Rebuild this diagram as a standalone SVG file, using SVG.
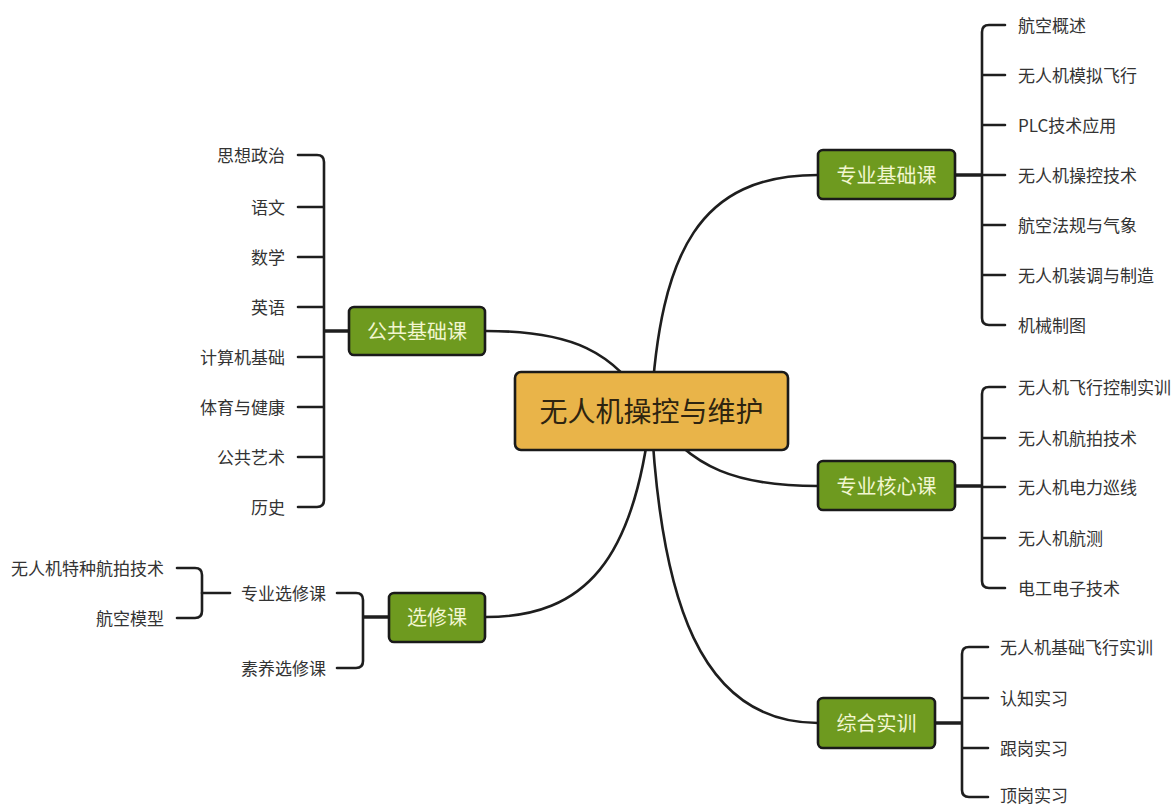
<svg xmlns="http://www.w3.org/2000/svg" width="1174" height="805" viewBox="0 0 1174 805">
<style>
.c{fill:none;stroke:#1e1e1e;stroke-width:2.6;stroke-linecap:round;stroke-linejoin:round}
.cc{fill:none;stroke:#1e1e1e;stroke-width:3.5}
.n{fill:#6E9A1F;stroke:#1a1a1a;stroke-width:2.6}
.nt{font-family:"Noto Sans CJK SC","Noto Sans",sans-serif;font-size:20px;fill:#F2F6D0;text-anchor:middle;dominant-baseline:central}
.l{font-family:"Noto Sans CJK SC","Noto Sans",sans-serif;font-size:17px;fill:#333;dominant-baseline:central}
.r{text-anchor:end}
</style>
<rect width="1174" height="805" fill="#fff"/>
<g id="connectors">
<path class="c" d="M651 411 C660 250 700 175 818 175"/>
<path class="c" d="M486 331 C570 331 615 350 651 411"/>
<path class="c" d="M651 411 C690 470 740 486 818 486"/>
<path class="c" d="M486 617 C585 617 635 560 651 411"/>
<path class="c" d="M651 411 C660 600 700 723 818 723"/>
<line class="cc" x1="955" y1="175" x2="982" y2="175"/>
<path class="c" d="M1005 25 H989 Q982 25 982 32 V318 Q982 325 989 325 H1005 M982 75 H1005 M982 125 H1005 M982 175 H1005 M982 225 H1005 M982 275 H1005"/>
<line class="cc" x1="955" y1="486" x2="982" y2="486"/>
<path class="c" d="M1005 387 H989 Q982 387 982 394 V581 Q982 588 989 588 H1005 M982 438 H1005 M982 487 H1005 M982 538 H1005"/>
<line class="cc" x1="935" y1="723" x2="962" y2="723"/>
<path class="c" d="M988 647 H969 Q962 647 962 654 V790 Q962 797 969 797 H988 M962 698 H988 M962 748 H988"/>
<line class="cc" x1="324" y1="331" x2="349" y2="331"/>
<path class="c" d="M298 155 H317 Q324 155 324 162 V500 Q324 507 317 507 H298 M324 207 H298 M324 257 H298 M324 307 H298 M324 357 H298 M324 407 H298 M324 457 H298"/>
<line class="cc" x1="363" y1="617" x2="389" y2="617"/>
<path class="c" d="M337 593 H356 Q363 593 363 600 V661 Q363 668 356 668 H337"/>
<line class="c" x1="202" y1="593" x2="230" y2="593"/>
<path class="c" d="M177 568 H195 Q202 568 202 575 V611 Q202 618 195 618 H177"/>
</g>
<g id="root">
<rect x="515" y="372" width="273" height="78" rx="6" fill="#E9B449" stroke="#1a1a1a" stroke-width="2.6"/>
<text x="651.5" y="410" font-family="Noto Sans CJK SC,sans-serif" font-size="28" fill="#2e2410" text-anchor="middle" dominant-baseline="central">无人机操控与维护</text>
</g>
<g id="zyjc">
<rect class="n" x="818" y="150" width="137" height="49" rx="5"/>
<text class="nt" x="886.5" y="174">专业基础课</text>
</g>
<g id="zyjc-leaves">
<text class="l" x="1018" y="24">航空概述</text>
<text class="l" x="1018" y="74">无人机模拟飞行</text>
<text class="l" x="1018" y="124">PLC技术应用</text>
<text class="l" x="1018" y="174">无人机操控技术</text>
<text class="l" x="1018" y="224">航空法规与气象</text>
<text class="l" x="1018" y="274">无人机装调与制造</text>
<text class="l" x="1018" y="324">机械制图</text>
</g>
<g id="zyhx">
<rect class="n" x="818" y="461" width="137" height="49" rx="5"/>
<text class="nt" x="886.5" y="485">专业核心课</text>
</g>
<g id="zyhx-leaves">
<text class="l" x="1018" y="386">无人机飞行控制实训</text>
<text class="l" x="1018" y="437">无人机航拍技术</text>
<text class="l" x="1018" y="486">无人机电力巡线</text>
<text class="l" x="1018" y="537">无人机航测</text>
<text class="l" x="1018" y="587">电工电子技术</text>
</g>
<g id="zhsx">
<rect class="n" x="818" y="698" width="117" height="50" rx="5"/>
<text class="nt" x="876.5" y="722">综合实训</text>
</g>
<g id="zhsx-leaves">
<text class="l" x="1000" y="646">无人机基础飞行实训</text>
<text class="l" x="1000" y="697">认知实习</text>
<text class="l" x="1000" y="747">跟岗实习</text>
<text class="l" x="1000" y="794">顶岗实习</text>
</g>
<g id="ggjc">
<rect class="n" x="349" y="307" width="136" height="48" rx="5"/>
<text class="nt" x="417" y="330">公共基础课</text>
</g>
<g id="ggjc-leaves">
<text class="l r" x="285" y="154">思想政治</text>
<text class="l r" x="285" y="206">语文</text>
<text class="l r" x="285" y="256">数学</text>
<text class="l r" x="285" y="306">英语</text>
<text class="l r" x="285" y="356">计算机基础</text>
<text class="l r" x="285" y="406">体育与健康</text>
<text class="l r" x="285" y="456">公共艺术</text>
<text class="l r" x="285" y="506">历史</text>
</g>
<g id="xxk">
<rect class="n" x="389" y="593" width="96" height="49" rx="5"/>
<text class="nt" x="437" y="616.5">选修课</text>
</g>
<g id="zyxxk">
<text class="l r" x="326" y="592">专业选修课</text>
</g>
<g id="syxxk">
<text class="l r" x="326" y="667">素养选修课</text>
</g>
<g id="zyxxk-leaves">
<text class="l r" x="164" y="567">无人机特种航拍技术</text>
<text class="l r" x="164" y="617">航空模型</text>
</g>
</svg>
